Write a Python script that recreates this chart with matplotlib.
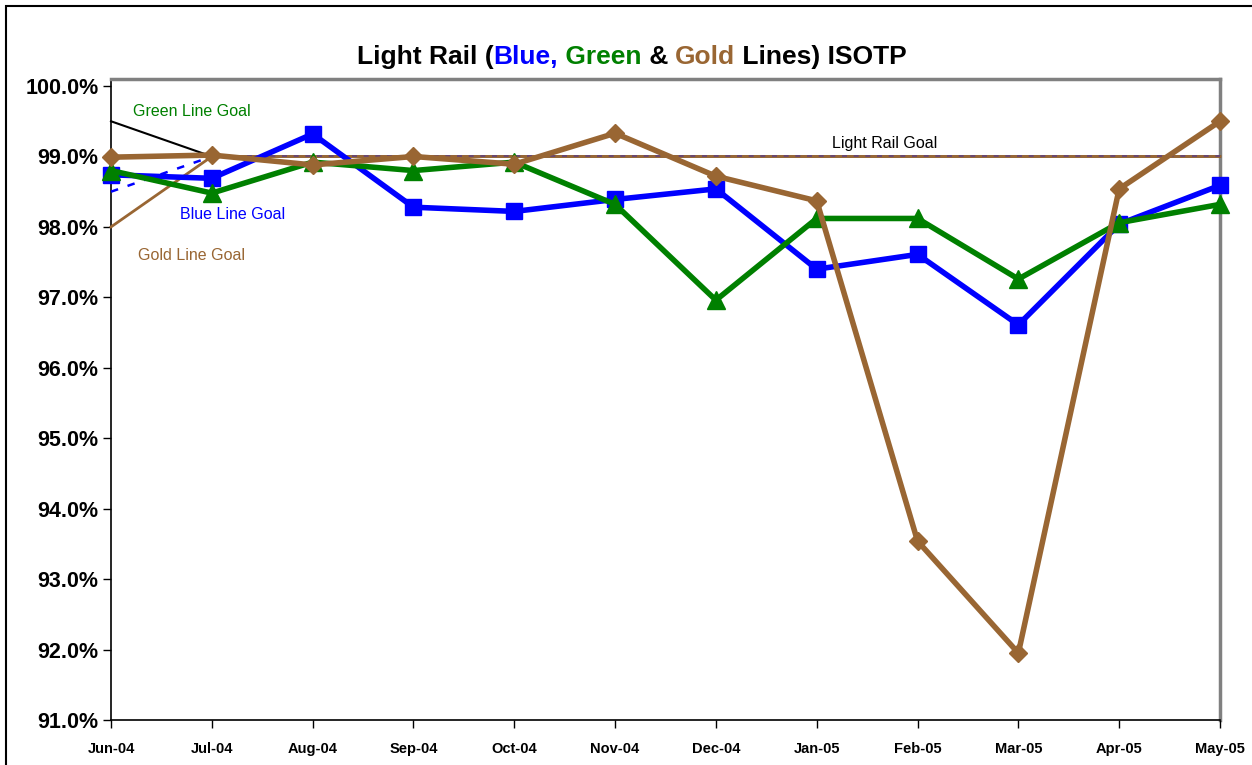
import matplotlib.pyplot as plt
from matplotlib.patches import Rectangle
from matplotlib.offsetbox import TextArea, HPacker, AnnotationBbox
from matplotlib.ticker import FuncFormatter

plt.rcParams['font.family'] = ['Liberation Sans', 'DejaVu Sans']

months = ["Jun-04", "Jul-04", "Aug-04", "Sep-04", "Oct-04", "Nov-04",
          "Dec-04", "Jan-05", "Feb-05", "Mar-05", "Apr-05", "May-05"]

blue = [98.74, 98.69, 99.32, 98.28, 98.22, 98.39, 98.54, 97.40, 97.61, 96.61, 98.04, 98.59]
green = [98.80, 98.48, 98.92, 98.80, 98.92, 98.32, 96.96, 98.12, 98.12, 97.26, 98.06, 98.32]
gold = [98.99, 99.02, 98.88, 99.00, 98.89, 99.33, 98.72, 98.37, 93.54, 91.95, 98.54, 99.50]

# goal series: first point offset so each line points at its label
rail_goal = [99.5] + [99.0] * 11
blue_goal = [98.5] + [99.0] * 11
gold_goal = [98.0] + [99.0] * 11

C_BLUE = "#0000FF"
C_GREEN = "#008000"
C_GOLD = "#996633"

fig = plt.figure(figsize=(12.52, 7.65), dpi=100)
ax = fig.add_axes([111 / 1252, 1 - 720 / 765, (1220 - 111) / 1252, (720 - 79) / 765])

x = list(range(len(months)))

ax.plot(x, rail_goal, color="black", lw=1.5, zorder=2)
ax.plot(x, gold_goal, color=C_GOLD, lw=2, zorder=2)
ax.plot(x[:2], blue_goal[:2], color=C_BLUE, lw=1.8, ls=(0, (3, 4)), zorder=3)
ax.plot(x[1:], blue_goal[1:], color=C_BLUE, lw=1.2, ls=(0, (3, 4)), alpha=0.35, zorder=3)

ax.plot(x, blue, color=C_BLUE, lw=4, marker="s", ms=12, zorder=4)
ax.plot(x, green, color=C_GREEN, lw=4, marker="^", ms=13, zorder=5)
ax.plot(x, gold, color=C_GOLD, lw=4, marker="D", ms=9.5, zorder=6)

ax.text(0.22, 99.58, "Green Line Goal", color=C_GREEN, fontsize=11.5)
ax.text(0.68, 98.11, "Blue Line Goal", color=C_BLUE, fontsize=11.5)
ax.text(0.27, 97.53, "Gold Line Goal", color=C_GOLD, fontsize=11.5)
ax.text(7.15, 99.12, "Light Rail Goal", color="black", fontsize=11.5)

ax.set_xlim(0, 11)
ax.set_ylim(91, 100.1)
ax.set_yticks([91 + i for i in range(10)])
ax.yaxis.set_major_formatter(FuncFormatter(lambda v, p: f"{v:.1f}%"))
ax.set_xticks(x)
ax.set_xticklabels(months)

for lab in ax.get_yticklabels():
    lab.set_fontweight("bold")
    lab.set_fontsize(15.5)
for lab in ax.get_xticklabels():
    lab.set_fontweight("bold")
    lab.set_fontsize(10.5)

ax.tick_params(axis="y", direction="out", length=6, width=1, pad=3)
ax.tick_params(axis="x", direction="out", length=6, width=1, pad=10)

ax.spines["left"].set_color("black")
ax.spines["bottom"].set_color("black")
ax.spines["left"].set_linewidth(1.2)
ax.spines["bottom"].set_linewidth(1.2)
ax.spines["top"].set_color("#808080")
ax.spines["right"].set_color("#808080")
ax.spines["top"].set_linewidth(2.5)
ax.spines["right"].set_linewidth(2.5)
for sp in ax.spines.values():
    sp.set_zorder(1)
for line in ax.get_lines():
    line.set_clip_on(False)

# multi-coloured title
parts = [("Light Rail (", "black"), ("Blue,", C_BLUE), (" Green", C_GREEN),
         (" & ", "black"), ("Gold", C_GOLD), (" Lines) ISOTP", "black")]
boxes = [TextArea(t, textprops=dict(color=c, fontsize=19, fontweight="bold"))
         for t, c in parts]
title = HPacker(children=boxes, align="baseline", pad=0, sep=0)
ab = AnnotationBbox(title, (632 / 1252, 1 - 57 / 765), xycoords="figure fraction",
                    frameon=False, box_alignment=(0.5, 0.5))
fig.add_artist(ab)

# outer chart border
fig.add_artist(Rectangle((6 / 1252, -0.05), 1.1, 1 - 6 / 765 + 0.05,
                         transform=fig.transFigure, fill=False,
                         edgecolor="black", lw=1.5))

fig.savefig("out.png", dpi=100)
